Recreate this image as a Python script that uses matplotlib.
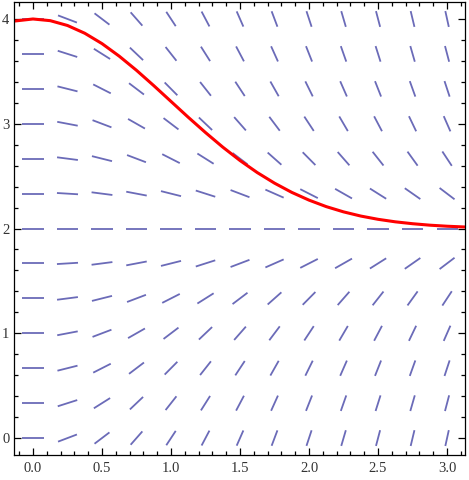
import numpy as np
import matplotlib.pyplot as plt
from matplotlib.collections import LineCollection
from matplotlib.ticker import MultipleLocator, FormatStrFormatter

# slope field grid: 13 columns x 13 rows
grid_x = [0.0, 0.25, 0.5, 0.75, 1.0, 1.25, 1.5, 1.75, 2.0, 2.25, 2.5, 2.75, 3.0]
grid_y = [0.0, 0.333, 0.667, 1.0, 1.333, 1.667, 2.0, 2.333, 2.667, 3.0, 3.333, 3.667, 4.0]

# slope dy/dx at each grid point, one row per grid_y value
slopes = [
    [0, 0.50, 1.00, 1.50, 2.00, 2.50, 3.00, 3.50, 4.00, 4.50, 5.00, 5.50, 6.00],
    [0, 0.42, 0.83, 1.25, 1.67, 2.08, 2.50, 2.92, 3.33, 3.75, 4.17, 4.58, 5.00],
    [0, 0.33, 0.67, 1.00, 1.33, 1.67, 2.00, 2.33, 2.67, 3.00, 3.33, 3.67, 4.00],
    [0, 0.25, 0.50, 0.75, 1.00, 1.25, 1.50, 1.75, 2.00, 2.25, 2.50, 2.75, 3.00],
    [0, 0.17, 0.33, 0.50, 0.67, 0.83, 1.00, 1.17, 1.33, 1.50, 1.67, 1.83, 2.00],
    [0, 0.08, 0.17, 0.25, 0.33, 0.42, 0.50, 0.58, 0.67, 0.75, 0.83, 0.92, 1.00],
    [0, 0.00, 0.00, 0.00, 0.00, 0.00, 0.00, 0.00, 0.00, 0.00, 0.00, 0.00, 0.00],
    [0, -0.08, -0.17, -0.25, -0.33, -0.42, -0.50, -0.58, -0.67, -0.75, -0.83, -0.92, -1.00],
    [0, -0.17, -0.33, -0.50, -0.67, -0.83, -1.00, -1.17, -1.33, -1.50, -1.67, -1.83, -2.00],
    [0, -0.25, -0.50, -0.75, -1.00, -1.25, -1.50, -1.75, -2.00, -2.25, -2.50, -2.75, -3.00],
    [0, -0.33, -0.67, -1.00, -1.33, -1.67, -2.00, -2.33, -2.67, -3.00, -3.33, -3.67, -4.00],
    [0, -0.42, -0.83, -1.25, -1.67, -2.08, -2.50, -2.92, -3.33, -3.75, -4.17, -4.58, -5.00],
    [0, -0.50, -1.00, -1.50, -2.00, -2.50, -3.00, -3.50, -4.00, -4.50, -5.00, -5.50, -6.00],
]

# red solution curve
curve_x = [-0.15, 0.0, 0.125, 0.25, 0.375, 0.5, 0.625, 0.75, 0.875, 1.0, 1.125,
           1.25, 1.375, 1.5, 1.625, 1.75, 1.875, 2.0, 2.125, 2.25, 2.375, 2.5,
           2.625, 2.75, 2.875, 3.0, 3.14]
curve_y = [3.978, 4.000, 3.984, 3.938, 3.864, 3.765, 3.645, 3.510, 3.364, 3.213,
           3.062, 2.916, 2.777, 2.649, 2.534, 2.433, 2.345, 2.271, 2.209, 2.159,
           2.119, 2.088, 2.064, 2.046, 2.032, 2.022, 2.014]

seg_len = 0.153

fig = plt.figure(figsize=(4.69, 4.80), dpi=100)
ax = fig.add_axes([0.0288, 0.052, 0.9627, 0.9438])

segs = []
for j, yv in enumerate(grid_y):
    for i, xv in enumerate(grid_x):
        s = slopes[j][i]
        dx = seg_len / 2 / np.sqrt(1 + s * s)
        segs.append([(xv - dx, yv - s * dx), (xv + dx, yv + s * dx)])
ax.add_collection(LineCollection(segs, colors='#6b6bb8', linewidths=1.3))

ax.plot(curve_x, curve_y, color='#ff0000', lw=2.2, solid_capstyle='butt')

ax.set_xlim(-0.141, 3.13)
ax.set_ylim(-0.162, 4.162)

ax.xaxis.set_major_locator(MultipleLocator(0.5))
ax.xaxis.set_minor_locator(MultipleLocator(0.1))
ax.xaxis.set_major_formatter(FormatStrFormatter('%.1f'))
ax.yaxis.set_major_locator(MultipleLocator(1))
ax.yaxis.set_minor_locator(MultipleLocator(0.2))
ax.yaxis.set_major_formatter(FormatStrFormatter('%d'))

ax.tick_params(which='both', direction='in', top=True, right=True,
               labelfontfamily='Liberation Serif', labelsize=10.5,
               labelcolor='#333333', width=0.9)
ax.tick_params(which='major', length=5)
ax.tick_params(which='minor', length=2.8)
ax.tick_params(axis='x', pad=5)
ax.tick_params(axis='y', pad=3)

for sp in ax.spines.values():
    sp.set_linewidth(0.9)

fig.savefig('out.png', dpi=100)
